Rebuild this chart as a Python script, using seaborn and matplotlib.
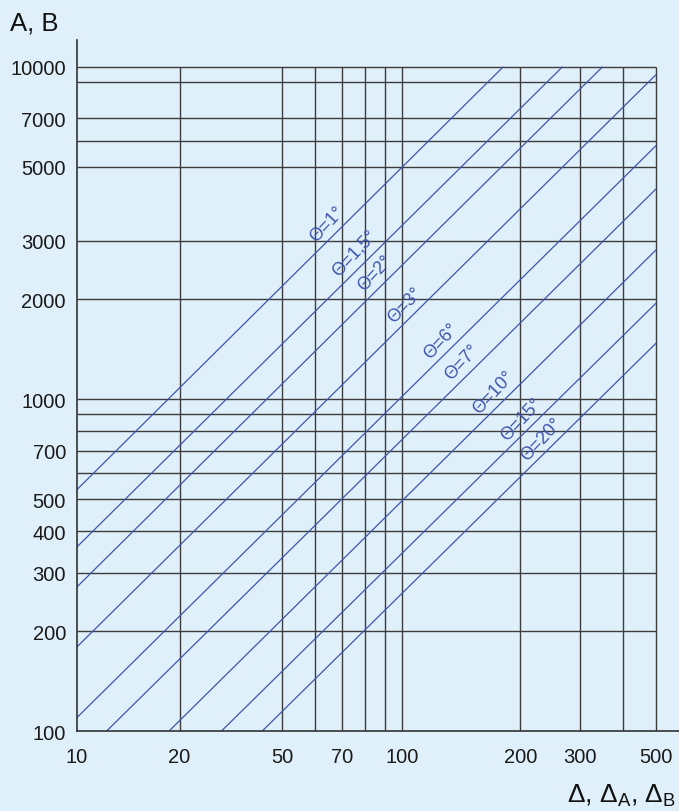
"""Nomogram: A, B versus delta for several angles theta."""
import matplotlib

matplotlib.use("Agg")
import matplotlib.pyplot as plt
import pandas as pd
import seaborn as sns
from matplotlib.ticker import NullLocator


sns.set_theme(style="white")
plt.rcParams["font.family"] = ["Liberation Sans", "DejaVu Sans"]
plt.rcParams["mathtext.fontset"] = "custom"
plt.rcParams["mathtext.rm"] = "Liberation Sans"
plt.rcParams["mathtext.it"] = "Liberation Sans:italic"

bg = "#dff0fb"
blue = "#3f55ae"
grid_color = "#3c3c3c"

# theta lines (start/end points on the frame)
theta_labels = ["Θ=1°", "Θ=1,5°", "Θ=2°", "Θ=3°", "Θ=6°", "Θ=7°", "Θ=10°", "Θ=15°", "Θ=20°"]
start_delta = [10, 10, 10, 10, 10, 12.2, 18.6, 26.5, 34.9]
start_a = [534, 359, 272, 179.5, 110, 100, 100, 100, 100]
end_delta = [178, 265.5, 348, 500, 500, 500, 500, 500, 500]
end_a = [10000, 10000, 10000, 9480, 5795, 4292, 2812, 1944, 1473]

# where the theta labels sit
label_delta = [54.3, 65.0, 74.9, 91.7, 117, 134.5, 166.5, 202, 231]
label_a = [3370, 2770, 2400, 1930, 1500, 1300, 1050, 871, 759]

# grid as drawn in the chart
grid_x = [20, 40, 50, 60, 70, 80, 90, 200, 300, 400, 500]
grid_y = [200, 300, 400, 500, 600, 700, 800, 900, 1000, 2000, 3000, 5000, 6000, 7000, 9000, 10000]

# tick labels as printed (placed where they appear)
xtick_pos = [10, 20, 40, 60, 90, 200, 300, 500]
xtick_labels = ["10", "20", "50", "70", "100", "200", "300", "500"]
ytick_pos = [100, 200, 300, 400, 500, 700, 1000, 2000, 3000, 5000, 7000, 10000]
ytick_labels = ["100", "200", "300", "400", "500", "700", "1000", "2000", "3000", "5000", "7000", "10000"]

df = pd.DataFrame(
    {
        "delta": start_delta + end_delta,
        "a": start_a + end_a,
        "theta": theta_labels * 2,
    }
)

fig = plt.figure(figsize=(6.79, 8.12), dpi=100, facecolor=bg)
ax = fig.add_axes([0.1134, 0.0982, 0.8866, 0.8517], facecolor=bg)
ax.set_xscale("log")
ax.set_yscale("log")
ax.set_xlim(10, 584)
ax.set_ylim(100, 12080)

ax.vlines(grid_x, 100, 10000, color=grid_color, lw=1.0, zorder=1)
ax.hlines(grid_y, 10, 500, color=grid_color, lw=1.0, zorder=1)

sns.lineplot(
    data=df,
    x="delta",
    y="a",
    units="theta",
    estimator=None,
    sort=False,
    color=blue,
    lw=0.9,
    ax=ax,
    zorder=2,
)

for lab, xd, yd in zip(theta_labels, label_delta, label_a):
    ax.text(
        xd, yd, lab, color=blue, fontsize=13, rotation=47,
        rotation_mode="anchor", ha="center", va="center", zorder=3,
    )

ax.xaxis.set_minor_locator(NullLocator())
ax.yaxis.set_minor_locator(NullLocator())
ax.set_xticks(xtick_pos, xtick_labels)
ax.set_yticks(ytick_pos, ytick_labels)
ax.tick_params(axis="both", length=0, labelsize=14.5, colors="#1a1a1a")
ax.tick_params(axis="x", pad=11)
ax.tick_params(axis="y", pad=8)
ax.set_xlabel("")
ax.set_ylabel("")

for side in ["top", "right"]:
    ax.spines[side].set_visible(False)
for side in ["left", "bottom"]:
    ax.spines[side].set_color("#333333")
    ax.spines[side].set_linewidth(1.2)

fig.text(10 / 679, 1 - 30.7 / 812, "A, B", fontsize=18.5, color="#111111", va="baseline", ha="left")
fig.text(
    676 / 679, 1 - 803 / 812, r"Δ, Δ$_\mathrm{A}$, Δ$_\mathrm{B}$",
    fontsize=19, color="#111111", va="baseline", ha="right",
)

fig.savefig("out.png", dpi=100, facecolor=bg)
